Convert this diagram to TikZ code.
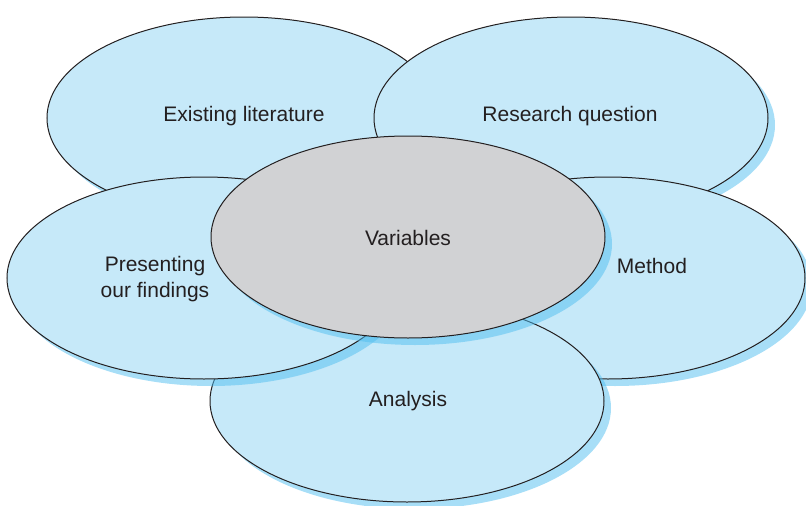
\documentclass[tikz,border=0pt]{standalone}
\usepackage{fontspec}
\setmainfont{Liberation Sans}
\usetikzlibrary{shapes.geometric,shadows}
\definecolor{petal}{RGB}{198,233,249}
\definecolor{core}{RGB}{209,210,212}
\definecolor{shadowblue}{RGB}{80,190,240}
\definecolor{inkline}{RGB}{35,31,32}
\tikzset{
  blob/.style={ellipse, draw=inkline, line width=1pt, fill=petal,
    minimum width=394pt, minimum height=202pt, inner sep=0pt,
    drop shadow={shadow xshift=7pt, shadow yshift=-7pt, fill=shadowblue, opacity=0.5}},
  coreblob/.style={blob, fill=core},
  lbl/.style={text=inkline, font=\fontsize{21}{26}\selectfont, align=center, inner sep=0pt}
}
\begin{document}
\begin{tikzpicture}[x=1pt,y=-1pt]
\useasboundingbox (0,0) rectangle (806,506);
\node[blob] (el) at (244,118) {};
\node[blob] (rq) at (571,118) {};
\node[blob] (me) at (608,278) {};
\node[blob] (an) at (407,401) {};
\node[blob] (pr) at (204,278) {};
\node[coreblob] (va) at (408,237) {};
\node[lbl] (elt) at (244,116.5) {Existing literature};
\node[lbl] (rqt) at (570,116.5) {Research question};
\node[lbl] (prt) at (155,279.5) {Presenting\\our findings};
\node[lbl] (met) at (652,266) {Method};
\node[lbl] (ant) at (408,401.5) {Analysis};
\node[lbl] (vat) at (408,238) {Variables};
\end{tikzpicture}
\end{document}
